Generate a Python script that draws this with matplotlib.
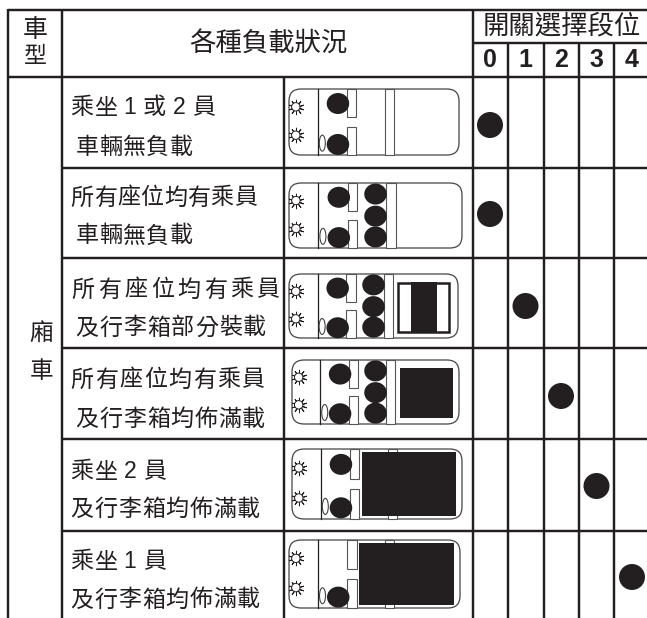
import matplotlib
matplotlib.use("Agg")
import matplotlib.pyplot as plt
from matplotlib.patches import FancyBboxPatch, Rectangle, Ellipse, Circle

plt.rcParams['font.family'] = ['Noto Sans CJK TC', 'DejaVu Sans']

# ---------- content ----------
switch_title = "開關選擇段位"
condition_title = "各種負載狀況"
vehicle_title = ["車", "型"]
vehicle_type = ["廂", "車"]
switch_labels = ["0", "1", "2", "3", "4"]
line1 = ["乘坐 1 或 2 員", "所有座位均有乘員", "所有座位均有乘員", "所有座位均有乘員", "乘坐 2 員", "乘坐 1 員"]
line2 = ["車輛無負載", "車輛無負載", "及行李箱部分裝載", "及行李箱均佈滿載", "及行李箱均佈滿載", "及行李箱均佈滿載"]
switch_pos = [0, 0, 1, 2, 3, 4]
front_seats = [2, 2, 2, 2, 2, 1]
rear_seats = [0, 3, 3, 3, 0, 0]
cargo = ["none", "none", "partial", "full", "max", "max"]

# ---------- layout (pixels) ----------
W, H = 647, 618
INK = "#231f20"
col_x = [8, 62, 284, 473, 508, 544, 579, 614]
row_y = [77, 168, 258, 348, 439, 531]
car_box = [(289, 89, 459, 155), (289, 183, 462, 248), (289, 274, 458, 338),
           (292, 360, 459, 424), (292, 449, 462, 519), (289, 540, 460, 608)]
text_y1 = [108, 198, 290, 380, 472, 562]
text_y2 = [147, 236, 328, 419, 509, 600]
pitch1 = [23.8, 23.4, 26.4, 24.4, 23.8, 23.8]
pitch2 = [23.6, 23.6, 23.9, 23.8, 23.8, 23.8]
x1 = [70, 70, 70, 70, 70, 70]
x2 = [75, 75, 75, 75, 70, 70]
dot_y = [125, 214, 306, 396, 486, 577]
FS = 16.6
LW = 1.75

fig = plt.figure(figsize=(W / 100, H / 100), dpi=100)
ax = fig.add_axes([0, 0, 1, 1])
ax.set_xlim(0, W)
ax.set_ylim(H, 0)
ax.axis("off")


def hl(y, a, b, lw=LW):
    ax.plot([a, b], [y, y], color=INK, lw=lw, solid_capstyle="butt")


def vl(x, a, b, lw=LW):
    ax.plot([x, x], [a, b], color=INK, lw=lw, solid_capstyle="butt")


def spaced(s, x, y, pitch, size=FS):
    cur = x
    for c in s:
        if c == " ":
            cur += 6
        elif c.isdigit():
            ax.text(cur + 6.5, y, c, fontsize=size, ha="center", va="center", color=INK,
                    family=['Liberation Sans', 'DejaVu Sans'])
            cur += 13
        else:
            ax.text(cur + pitch / 2, y, c, fontsize=size, ha="center", va="center", color=INK)
            cur += pitch


# grid
hl(9.5, col_x[0], W)
hl(43, col_x[3], W)
hl(row_y[0], col_x[0], W)
for y in row_y[1:]:
    hl(y, col_x[1], W)
vl(col_x[0], 9, H)
vl(col_x[1], 9, H)
vl(col_x[2], row_y[0], H)
vl(col_x[3], 9, H)
for x in col_x[4:]:
    vl(x, 43, H)

# header text
ax.text(35, 30, vehicle_title[0], fontsize=18, ha="center", va="center", color=INK)
ax.text(35, 56, vehicle_title[1], fontsize=16.5, ha="center", va="center", color=INK)
ax.text(268, 44, condition_title, fontsize=19, ha="center", va="center", color=INK)
ax.text(562, 26, switch_title, fontsize=19, ha="center", va="center", color=INK)
for i, s in enumerate(switch_labels):
    ax.text(490 + 35.5 * i, 60, s, fontsize=18, ha="center", va="center",
            color=INK, weight="bold", family=['Liberation Sans', 'DejaVu Sans'])
ax.text(41.5, 334, vehicle_type[0], fontsize=17, ha="center", va="center", color=INK)
ax.text(41.5, 372, vehicle_type[1], fontsize=17, ha="center", va="center", color=INK)


def draw_car(box, front, rear, load):
    x0, y0, x1_, y1_ = box
    w, h = x1_ - x0, y1_ - y0
    X = lambda f: x0 + f * w
    Y = lambda f: y0 + f * h
    ax.add_patch(FancyBboxPatch((x0 + 11, y0 + 11), w - 22, h - 22, boxstyle="round,pad=11,rounding_size=12",
                                fc="white", ec="#444444", lw=0.9, zorder=2))
    ax.plot([X(.17)] * 2, [y0, y1_], color=INK, lw=0.9, zorder=2.5)
    # seat backs
    for a, b in ((0, .43), (.57, 1)):
        ax.add_patch(Rectangle((X(.34), Y(a)), .055 * w, (b - a) * h, fc="white", ec="#555555", lw=0.8, zorder=3))
    ax.add_patch(Rectangle((X(.563), y0), .053 * w, h, fc="white", ec="#555555", lw=0.8, zorder=3))
    # small oval
    ax.add_patch(Ellipse((X(.196), Y(.82)), 6, 16, fc="white", ec="#444444", lw=0.8, zorder=3))
    # lamps
    for fy in (.27, .70):
        ax.plot([X(.04)], [Y(fy)], marker=(10, 2, 0), ms=11, mec=INK, mew=0.7, zorder=3)
        ax.add_patch(Circle((X(.04), Y(fy)), 4.2, fc="white", ec=INK, lw=0.7, zorder=4))
    # occupants
    if front == 2:
        ax.add_patch(Ellipse((X(.288), Y(.22)), 22.5, 21, fc=INK, ec="none", zorder=5))
    ax.add_patch(Ellipse((X(.288), Y(.84)), 22.5, 21, fc=INK, ec="none", zorder=5))
    if rear:
        for fy in (.17, .51, .83):
            ax.add_patch(Ellipse((X(.50), Y(fy)), 22.5, 21, fc=INK, ec="none", zorder=5))
    # luggage
    if load == "partial":
        ax.add_patch(Rectangle((X(.645), Y(.145)), .30 * w, .755 * h, fc="white", ec=INK, lw=1.8, zorder=4))
        ax.add_patch(Rectangle((X(.72), Y(.125)), .155 * w, .775 * h, fc=INK, ec="none", zorder=5))
    elif load == "full":
        ax.add_patch(Rectangle((X(.646), Y(.13)), .32 * w, .77 * h, fc=INK, ec="none", zorder=5))
    elif load == "max":
        ax.add_patch(Rectangle((X(.41), Y(.04)), .555 * w, .91 * h, fc=INK, ec="none", zorder=5))


for i in range(6):
    spaced(line1[i], x1[i], text_y1[i], pitch1[i])
    spaced(line2[i], x2[i], text_y2[i], pitch2[i])
    draw_car(car_box[i], front_seats[i], rear_seats[i], cargo[i])
    ax.add_patch(Circle((490 + 35.5 * switch_pos[i], dot_y[i]), 13, fc=INK, ec="none", zorder=5))

fig.savefig("out.png", dpi=100)
